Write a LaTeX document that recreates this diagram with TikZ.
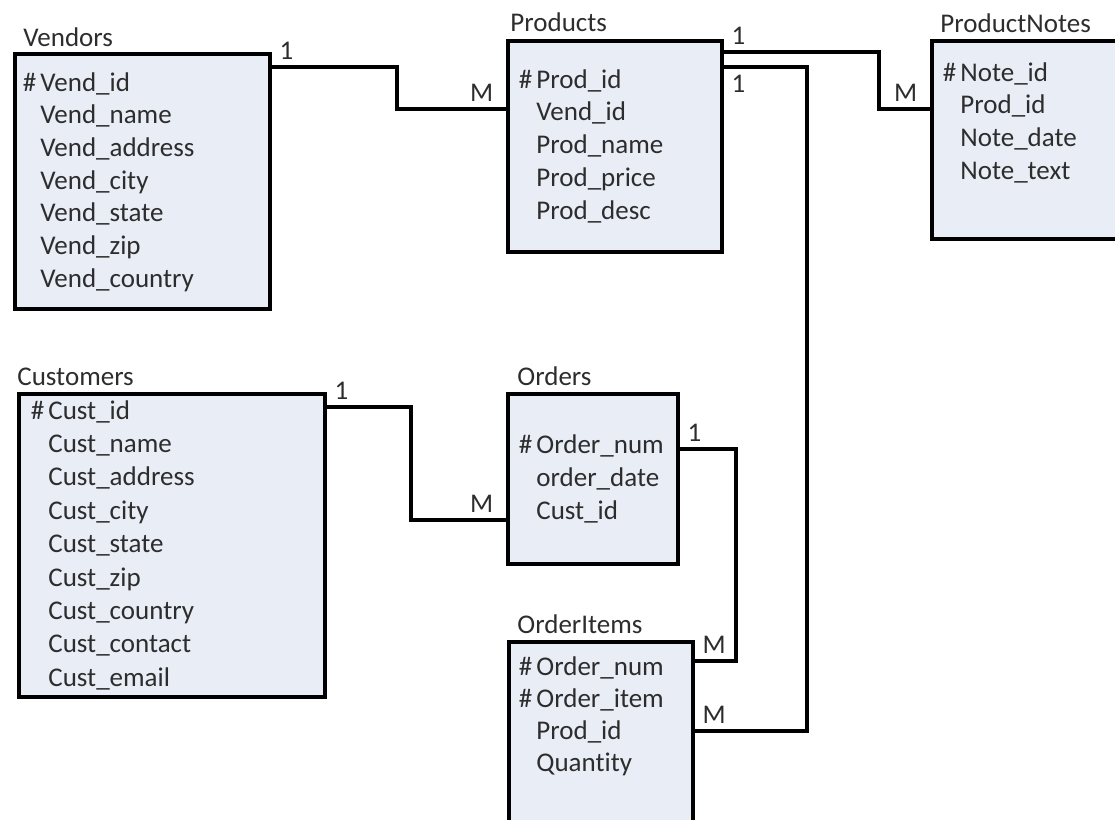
\documentclass[tikz,border=0pt]{standalone}
\usepackage{fontspec}
\setmainfont{Carlito}[Ligatures=NoCommon]
\usetikzlibrary{positioning,calc}
\definecolor{boxfill}{RGB}{232,237,246}
\definecolor{ink}{RGB}{45,45,45}
\newcommand{\pk}[1]{\llap{\#\hspace{2pt}}#1}
\tikzset{
    table/.style={
        rectangle,
        draw=black,
        line width=1.9pt,
        fill=boxfill,
        anchor=north west,
        inner sep=0pt,
    },
    title/.style={
        anchor=base west,
        inner sep=0pt,
        text=ink,
        font=\fontsize{13.5}{16}\selectfont,
    },
    field/.style={
        anchor=base west,
        inner sep=0pt,
        text=ink,
        font=\fontsize{13.5}{16}\selectfont,
    },
    link/.style={
        line width=1.7pt,
        draw=black,
    },
    card/.style={
        inner sep=3pt,
        text=ink,
        font=\fontsize{13.5}{16}\selectfont,
    },
}

\begin{document}
\begin{tikzpicture}[x=0.5pt,y=-0.5pt]
    \useasboundingbox (0,0) rectangle (1115,820);
    \clip (0,0) rectangle (1115,820);
    % tables
    \node [table, minimum width=127.5pt, minimum height=127.5pt] (vendors) at (13,52) {};
    \node [table, minimum width=107pt, minimum height=105.5pt] (products) at (506,39) {};
    \node [table, minimum width=110pt, minimum height=99pt] (notes) at (930,39) {};
    \node [table, minimum width=153pt, minimum height=151.5pt] (customers) at (17,392) {};
    \node [table, minimum width=85pt, minimum height=85pt] (orders) at (506,392) {};
    \node [table, minimum width=92pt, minimum height=110pt] (items) at (507,640) {};
    % titles
    \node [title] (vendors-title) at ($(vendors.north west)+(10,-6)$) {Vendors};
    \node [title] (products-title) at ($(products.north west)+(4,-8)$) {Products};
    \node [title] (notes-title) at ($(notes.north west)+(10,-7)$) {ProductNotes};
    \node [title] (customers-title) at ($(customers.north west)+(0,-7)$) {Customers};
    \node [title] (orders-title) at ($(orders.north west)+(11,-7)$) {Orders};
    \node [title] (items-title) at ($(items.north west)+(10,-7)$) {OrderItems};
    % fields
    \foreach \f [count=\i] in {\pk{Vend\_id},Vend\_name,Vend\_address,Vend\_city,Vend\_state,Vend\_zip,Vend\_country}
        \node [field] (vendors-\i) at ($(vendors.north west)+(27,{39+32.7*(\i-1)})$) {\f};
    \foreach \f [count=\i] in {\pk{Prod\_id},Vend\_id,Prod\_name,Prod\_price,Prod\_desc}
        \node [field] (products-\i) at ($(products.north west)+(30,{49+32.75*(\i-1)})$) {\f};
    \foreach \f [count=\i] in {\pk{Note\_id},Prod\_id,Note\_date,Note\_text}
        \node [field] (notes-\i) at ($(notes.north west)+(30,{42+32.7*(\i-1)})$) {\f};
    \foreach \f [count=\i] in {\pk{Cust\_id},Cust\_name,Cust\_address,Cust\_city,Cust\_state,Cust\_zip,Cust\_country,Cust\_contact,Cust\_email}
        \node [field] (customers-\i) at ($(customers.north west)+(31,{27+33.4*(\i-1)})$) {\f};
    \foreach \f [count=\i] in {\pk{Order\_num},order\_date,Cust\_id}
        \node [field] (orders-\i) at ($(orders.north west)+(30,{61+33*(\i-1)})$) {\f};
    \foreach \f [count=\i] in {\pk{Order\_num},\pk{Order\_item},Prod\_id,Quantity}
        \node [field] (items-\i) at ($(items.north west)+(29,{35+32.3*(\i-1)})$) {\f};
    % relationships
    \draw [link] ($(vendors.north east)+(0,15)$) node [card, anchor=south west] (vendors-one) {1}
        -- ++(125,0) |- ($(products.north west)+(0,70)$) node [card, anchor=south east, xshift=-2.5pt] (products-many) {M};
    \draw [link] ($(products.north east)+(0,13)$) node [card, anchor=south west] (products-one-a) {1}
        -- ++(155,0) |- ($(notes.north west)+(0,70)$) node [card, anchor=south east, xshift=-2.5pt] (notes-many) {M};
    \draw [link] ($(products.north east)+(0,28)$) node [card, anchor=north west] (products-one-b) {1}
        -- ++(83,0) |- ($(items.north east)+(0,91)$) node [card, anchor=south west] (items-many-b) {M};
    \draw [link] ($(customers.north east)+(0,15)$) node [card, anchor=south west] (customers-one) {1}
        -- ++(84,0) |- ($(orders.north west)+(0,128)$) node [card, anchor=south east, xshift=-2.5pt] (orders-many) {M};
    \draw [link] ($(orders.north east)+(0,57)$) node [card, anchor=south west] (orders-one) {1}
        -- ++(56,0) |- ($(items.north east)+(0,21)$) node [card, anchor=south west] (items-many-a) {M};
\end{tikzpicture}
\end{document}
